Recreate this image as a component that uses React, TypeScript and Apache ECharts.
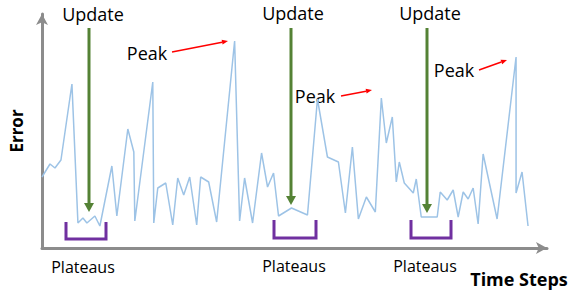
import React, { useEffect, useRef } from "react";
import * as echarts from "echarts";

// time step positions (arbitrary units) and error values
const timeSteps = [0, 8, 13, 19, 30, 36, 41, 45, 53, 58, 70, 75, 86, 92, 93, 111, 112, 116, 124, 131, 136, 142, 148, 155, 159, 167, 175, 193, 198, 203, 211, 220, 226, 232, 237, 250, 266, 276, 286, 297, 304, 311, 317, 325, 334, 340, 345, 351, 355, 358, 363, 372, 375, 380, 396, 399, 406, 412, 417, 422, 427, 432, 437, 442, 456, 475, 475, 481, 487];
const errorValues = [71, 84, 80, 88, 164, 25, 30, 25, 32, 22, 82, 32, 119, 96, 27, 166, 25, 60, 65, 23, 70, 53, 71, 23, 71, 66, 26, 207, 27, 70, 25, 95, 61, 75, 32, 40, 33, 149, 91, 86, 35, 101, 29, 51, 36, 150, 105, 131, 66, 86, 65, 55, 69, 31, 31, 56, 48, 58, 31, 56, 49, 60, 24, 94, 29, 191, 55, 76, 22];

const updateLabels = ["Update", "Update", "Update"];
const peakLabels = ["Peak", "Peak", "Peak"];
const plateauLabels = ["Plateaus", "Plateaus", "Plateaus"];

const FONT = "'Open Sans', 'Noto Sans', sans-serif";
const GREEN = "#548235";
const PURPLE = "#7030a0";
const RED = "#ff0000";

function greenArrow(x: number, y1: number, y2: number) {
  return [
    { type: "line", shape: { x1: x, y1, x2: x, y2: y2 - 7 }, style: { stroke: GREEN, lineWidth: 3 } },
    { type: "polygon", shape: { points: [[x - 5, y2 - 9], [x + 5, y2 - 9], [x, y2]] }, style: { fill: GREEN } },
  ];
}

function redArrow(x1: number, y1: number, x2: number, y2: number) {
  const ang = Math.atan2(y2 - y1, x2 - x1);
  const len = 6;
  const w = 2.5;
  const bx = x2 - len * Math.cos(ang);
  const by = y2 - len * Math.sin(ang);
  const px = -Math.sin(ang) * w;
  const py = Math.cos(ang) * w;
  return [
    { type: "line", shape: { x1, y1, x2: bx, y2: by }, style: { stroke: RED, lineWidth: 1.5 } },
    { type: "polygon", shape: { points: [[bx + px, by + py], [bx - px, by - py], [x2, y2]] }, style: { fill: RED } },
  ];
}

function bracket(xl: number, xr: number, top: number, bottom: number) {
  return {
    type: "polyline",
    shape: { points: [[xl, top], [xl, bottom], [xr, bottom], [xr, top]] },
    style: { stroke: PURPLE, lineWidth: 3, fill: null },
  };
}

function label(text: string, x: number, y: number, size: number, bold = false) {
  return {
    type: "text",
    x,
    y,
    style: {
      text,
      fontFamily: FONT,
      fontSize: size,
      fontWeight: bold ? "bold" : "normal",
      fill: "#000",
      align: "center",
      verticalAlign: "middle",
    },
  };
}

export default function App() {
  const ref = useRef<HTMLDivElement>(null);
  useEffect(() => {
    if (!ref.current) return;
    const chart = echarts.init(ref.current, null, { renderer: "svg" });
    const data = timeSteps.map((t, i) => [t, errorValues[i]]);
    const axisLine = {
      show: true,
      symbol: ["none", "arrow"],
      symbolSize: [9, 11],
      lineStyle: { color: "#8c8c8c", width: 3 },
    };
    chart.setOption({
      animation: false,
      grid: { left: 41, right: 22, top: 14, bottom: 46 },
      xAxis: {
        type: "value",
        min: 0,
        max: 506,
        axisLine,
        axisTick: { show: false },
        axisLabel: { show: false },
        splitLine: { show: false },
      },
      yAxis: {
        type: "value",
        min: 0,
        max: 234,
        axisLine,
        axisTick: { show: false },
        axisLabel: { show: false },
        splitLine: { show: false },
        name: "Error",
        nameLocation: "middle",
        nameRotate: 90,
        nameGap: 17,
        nameTextStyle: { fontFamily: FONT, fontSize: 17, fontWeight: "bold", color: "#000" },
      },
      series: [
        {
          type: "line",
          data,
          showSymbol: false,
          lineStyle: { color: "#9dc3e6", width: 1.5 },
          z: 1,
        },
      ],
      graphic: [
        ...greenArrow(89, 28, 212),
        ...greenArrow(291, 28, 205),
        ...greenArrow(427, 28, 213),
        ...redArrow(172, 52, 228, 41),
        ...redArrow(341, 96, 372, 90),
        ...redArrow(479, 70, 507, 60),
        bracket(66, 106, 222, 239),
        bracket(274, 316, 220, 238),
        bracket(411, 451, 220, 238),
        label(updateLabels[0], 93, 14, 18),
        label(updateLabels[1], 293, 13, 18),
        label(updateLabels[2], 430, 13, 18),
        label(peakLabels[0], 147, 53, 18),
        label(peakLabels[1], 315, 96, 18),
        label(peakLabels[2], 454, 70, 18),
        label(plateauLabels[0], 83, 267, 16),
        label(plateauLabels[1], 294, 266, 16),
        label(plateauLabels[2], 425, 266, 16),
        label("Time Steps", 519, 279, 18, true),
      ],
    });
    return () => chart.dispose();
  }, []);
  return <div ref={ref} style={{ position: "fixed", left: 0, top: 0, width: 569, height: 294, background: "#fff" }} />;
}
